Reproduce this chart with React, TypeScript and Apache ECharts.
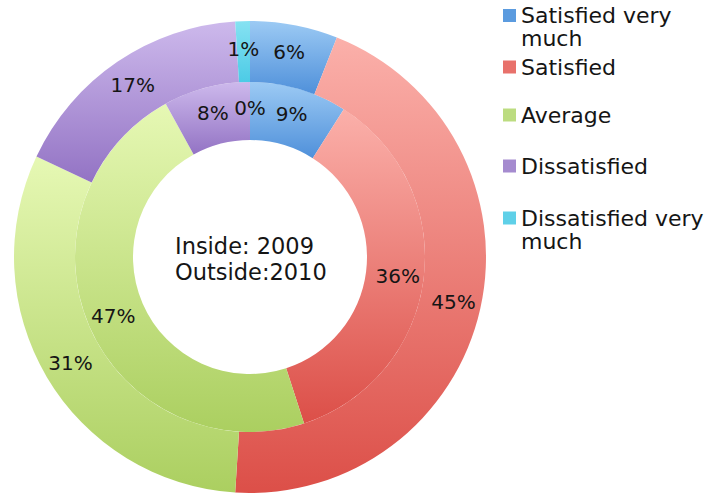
import React, { useEffect, useRef } from 'react';
import * as echarts from 'echarts';

// ---- data ----
const categories = [
  'Satisfied very much',
  'Satisfied',
  'Average',
  'Dissatisfied',
  'Dissatisfied very much',
];
const legendLabels = [
  'Satisfied very\nmuch',
  'Satisfied',
  'Average',
  'Dissatisfied',
  'Dissatisfied very\nmuch',
];
const values2009 = [9, 36, 47, 8, 0]; // inside ring
const values2010 = [6, 45, 31, 17, 1]; // outside ring
const centerLines = ['Inside: 2009', 'Outside:2010'];

// ---- styles ----
const lightColors = ['#9ccaf4', '#fbb0aa', '#e6f8b4', '#cdb9ec', '#86e2f2'];
const darkColors = ['#4f90da', '#dc4f48', '#abcf60', '#9373c4', '#4ccbe6'];
const legendColors = ['#5b9bdf', '#e8716b', '#bcdc80', '#a58bcf', '#5fd0e8'];
const legendCenters = [15.5, 67, 115, 166, 218];
const FONT = 'DejaVu Sans';
const TEXT_COLOR = '#151515';
const LEGEND_LH = 23;

const grad = (i: number) => ({
  type: 'linear',
  x: 0,
  y: 0,
  x2: 0,
  y2: 1,
  colorStops: [
    { offset: 0, color: lightColors[i] },
    { offset: 1, color: darkColors[i] },
  ],
});

export default function App() {
  const ref = useRef<HTMLDivElement>(null);

  useEffect(() => {
    if (!ref.current) return;
    const chart = echarts.init(ref.current, undefined, { renderer: 'svg' });

    const label = {
      show: true,
      position: 'inside',
      formatter: '{c}%',
      fontSize: 20,
      fontFamily: FONT,
      color: TEXT_COLOR,
    };

    const makeData = (vals: number[]) =>
      categories.map((name, i) => ({
        name,
        value: vals[i],
        itemStyle: { color: grad(i) },
      }));

    const legends = categories.map((name, i) => {
      const multi = legendLabels[i].includes('\n');
      const top = multi
        ? legendCenters[i] - LEGEND_LH * 1.5
        : legendCenters[i] - LEGEND_LH / 2;
      return {
        data: [{ name, itemStyle: { color: legendColors[i] } }],
        orient: 'vertical',
        left: 503,
        top,
        padding: 0,
        itemWidth: 13,
        itemHeight: 13,
        icon: 'rect',
        selectedMode: false,
        formatter: () => (multi ? '\n' + legendLabels[i] : legendLabels[i]),
        textStyle: {
          fontSize: 22,
          fontFamily: FONT,
          color: TEXT_COLOR,
          lineHeight: LEGEND_LH,
        },
      };
    });

    chart.setOption({
      animation: false,
      backgroundColor: '#ffffff',
      legend: legends,
      graphic: [
        {
          type: 'text',
          left: 175,
          top: 233,
          style: {
            text: centerLines.join('\n'),
            font: `22.5px "${FONT}"`,
            lineHeight: 26,
            fill: TEXT_COLOR,
          },
        },
      ],
      series: [
        {
          type: 'pie',
          name: '2009',
          center: [250, 257],
          radius: [117, 175],
          startAngle: 90,
          clockwise: true,
          avoidLabelOverlap: false,
          label,
          labelLine: { show: false },
          emphasis: { disabled: true },
          itemStyle: { borderWidth: 0 },
          data: makeData(values2009),
        },
        {
          type: 'pie',
          name: '2010',
          center: [250, 257],
          radius: [175, 236],
          startAngle: 90,
          clockwise: true,
          avoidLabelOverlap: false,
          label,
          labelLine: { show: false },
          emphasis: { disabled: true },
          itemStyle: { borderWidth: 0 },
          data: makeData(values2010),
        },
      ],
    });

    return () => chart.dispose();
  }, []);

  return (
    <div
      ref={ref}
      style={{ position: 'fixed', left: 0, top: 0, width: 709, height: 493 }}
    />
  );
}
